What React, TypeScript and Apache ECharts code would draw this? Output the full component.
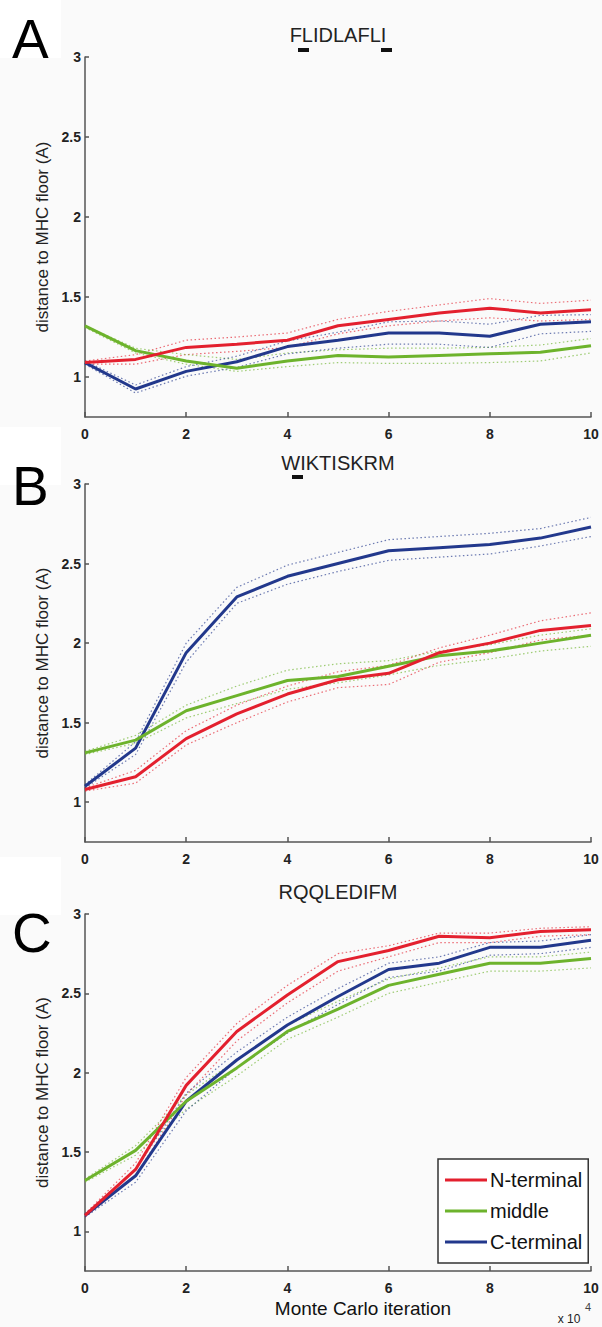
import React, { useEffect, useRef } from "react";
import * as echarts from "echarts";

// Monte Carlo iteration (x 10^4)
const iterations = [0, 1, 2, 3, 4, 5, 6, 7, 8, 9, 10];
const xTicks = [0, 2, 4, 6, 8, 10];
const yTicks = [1, 1.5, 2, 2.5, 3];

const seriesNames = ["N-terminal", "middle", "C-terminal"];
const peptides = ["FLIDLAFLI", "WIKTISKRM", "RQQLEDIFM"];
const panelLetters = ["A", "B", "C"];

// Panel A – FLIDLAFLI
const nA = [1.09, 1.11, 1.185, 1.205, 1.23, 1.32, 1.36, 1.4, 1.43, 1.4, 1.42];
const nAHi = [1.1, 1.14, 1.23, 1.25, 1.275, 1.36, 1.41, 1.45, 1.49, 1.46, 1.48];
const nALo = [1.08, 1.08, 1.14, 1.16, 1.185, 1.27, 1.32, 1.35, 1.37, 1.35, 1.36];
const mA = [1.32, 1.165, 1.1, 1.055, 1.1, 1.135, 1.125, 1.135, 1.145, 1.155, 1.195];
const mAHi = [1.32, 1.18, 1.14, 1.11, 1.15, 1.17, 1.18, 1.18, 1.185, 1.2, 1.24];
const mALo = [1.31, 1.15, 1.08, 1.035, 1.065, 1.09, 1.085, 1.085, 1.09, 1.1, 1.15];
const cA = [1.09, 0.925, 1.035, 1.095, 1.19, 1.23, 1.275, 1.275, 1.255, 1.33, 1.345];
const cAHi = [1.1, 0.95, 1.065, 1.13, 1.225, 1.28, 1.345, 1.35, 1.33, 1.385, 1.39];
const cALo = [1.08, 0.9, 1.005, 1.06, 1.145, 1.18, 1.205, 1.205, 1.185, 1.27, 1.285];

// Panel B – WIKTISKRM
const nB = [1.08, 1.16, 1.4, 1.555, 1.68, 1.77, 1.81, 1.94, 2.0, 2.08, 2.11];
const nBHi = [1.09, 1.2, 1.45, 1.61, 1.73, 1.82, 1.86, 1.97, 2.05, 2.14, 2.19];
const nBLo = [1.07, 1.12, 1.36, 1.5, 1.63, 1.72, 1.74, 1.88, 1.94, 2.02, 2.05];
const mB = [1.31, 1.39, 1.575, 1.67, 1.765, 1.79, 1.855, 1.92, 1.95, 2.0, 2.05];
const mBHi = [1.32, 1.42, 1.61, 1.73, 1.83, 1.87, 1.89, 1.95, 1.99, 2.05, 2.09];
const mBLo = [1.3, 1.37, 1.53, 1.62, 1.71, 1.75, 1.8, 1.86, 1.9, 1.95, 1.98];
const cB = [1.1, 1.34, 1.94, 2.29, 2.42, 2.5, 2.58, 2.6, 2.62, 2.66, 2.73];
const cBHi = [1.11, 1.38, 2.0, 2.35, 2.49, 2.57, 2.65, 2.67, 2.69, 2.72, 2.79];
const cBLo = [1.09, 1.3, 1.88, 2.25, 2.37, 2.45, 2.52, 2.54, 2.56, 2.61, 2.67];

// Panel C – RQQLEDIFM
const nC = [1.1, 1.39, 1.92, 2.26, 2.49, 2.7, 2.77, 2.86, 2.85, 2.89, 2.9];
const nCHi = [1.11, 1.43, 1.97, 2.31, 2.55, 2.75, 2.8, 2.88, 2.88, 2.91, 2.92];
const nCLo = [1.09, 1.35, 1.86, 2.2, 2.44, 2.64, 2.73, 2.82, 2.82, 2.86, 2.87];
const mC = [1.32, 1.51, 1.82, 2.03, 2.26, 2.4, 2.55, 2.62, 2.69, 2.69, 2.72];
const mCHi = [1.33, 1.54, 1.86, 2.08, 2.3, 2.45, 2.59, 2.66, 2.73, 2.73, 2.76];
const mCLo = [1.31, 1.48, 1.77, 1.98, 2.21, 2.35, 2.5, 2.57, 2.64, 2.64, 2.66];
const cC = [1.1, 1.35, 1.82, 2.08, 2.3, 2.48, 2.65, 2.69, 2.79, 2.79, 2.835];
const cCHi = [1.11, 1.39, 1.87, 2.13, 2.35, 2.53, 2.69, 2.73, 2.82, 2.83, 2.87];
const cCLo = [1.09, 1.31, 1.76, 2.03, 2.25, 2.43, 2.6, 2.64, 2.74, 2.75, 2.79];

const COLORS = ["#e3202e", "#6db32c", "#22388c"];
const FONT = "'Liberation Sans', Arial, Helvetica, sans-serif";

const panels = [
  { main: [nA, mA, cA], hi: [nAHi, mAHi, cAHi], lo: [nALo, mALo, cALo] },
  { main: [nB, mB, cB], hi: [nBHi, mBHi, cBHi], lo: [nBLo, mBLo, cBLo] },
  { main: [nC, mC, cC], hi: [nCHi, mCHi, cCHi], lo: [nCLo, mCLo, cCLo] },
];

const GRID_LEFT = 85;
const GRID_WIDTH = 506;
const gridTops = [57, 484, 914];
const gridHeights = [360, 358, 357];

const pairs = (ys: number[]) => iterations.map((x, i) => [x, ys[i]]);

export default function App() {
  const ref = useRef<HTMLDivElement>(null);

  useEffect(() => {
    document.body.style.margin = "0";
    if (!ref.current) return;
    const chart = echarts.init(ref.current, undefined, { renderer: "svg" });

    const grids = gridTops.map((top, i) => ({
      left: GRID_LEFT,
      top,
      width: GRID_WIDTH,
      height: gridHeights[i],
      containLabel: false,
    }));

    const axisLine = { show: true, lineStyle: { color: "#555", width: 1.5 } };
    const labelStyle = { color: "#222", fontSize: 14, fontWeight: "bold" as const, fontFamily: FONT };

    const xAxes = gridTops.map((_, i) => ({
      type: "value",
      gridIndex: i,
      min: 0,
      max: 10,
      interval: 2,
      axisLine,
      axisTick: { show: true, inside: true, length: 5, customValues: xTicks, lineStyle: { color: "#555", width: 1.5 } },
      axisLabel: { ...labelStyle, margin: 10, customValues: xTicks },
      splitLine: { show: false },
    }));

    const yAxes = gridTops.map((_, i) => ({
      type: "value",
      gridIndex: i,
      min: 0.75,
      max: 3,
      interval: 0.25,
      name: "distance to MHC floor (A)",
      nameLocation: "middle",
      nameGap: 31,
      nameRotate: 90,
      nameTextStyle: { color: "#222", fontSize: 17, fontFamily: FONT },
      axisLine,
      axisTick: { show: true, inside: true, length: 4, customValues: yTicks, lineStyle: { color: "#555", width: 1.5 } },
      axisLabel: {
        ...labelStyle,
        margin: 4,
        customValues: yTicks,
        formatter: (v: number) => String(v),
      },
      splitLine: { show: false },
    }));

    const series: any[] = [];
    panels.forEach((p, gi) => {
      [0, 1, 2].forEach((k) => {
        [p.hi[k], p.lo[k]].forEach((arr) => {
          series.push({
            type: "line",
            name: seriesNames[k] + " bound",
            xAxisIndex: gi,
            yAxisIndex: gi,
            data: pairs(arr),
            showSymbol: false,
            symbol: "none",
            lineStyle: { color: COLORS[k], width: 1.2, type: [1.5, 2.5], opacity: 0.65 },
            z: 2,
            silent: true,
          });
        });
      });
      [2, 1, 0].forEach((k) => {
        series.push({
          type: "line",
          name: seriesNames[k],
          xAxisIndex: gi,
          yAxisIndex: gi,
          data: pairs(p.main[k]),
          showSymbol: false,
          symbol: "none",
          lineStyle: { color: COLORS[k], width: 3 },
          itemStyle: { color: COLORS[k] },
          z: 3 + (2 - k),
        });
      });
    });

    const graphic: any[] = [];
    [0, 427, 857].forEach((y) => {
      graphic.push({ type: "rect", shape: { x: 0, y, width: 61, height: 58 }, style: { fill: "#ffffff" }, z: 0 });
    });
    const letterTops = [11, 458, 905];
    panelLetters.forEach((L, i) => {
      graphic.push({
        type: "text",
        x: 12,
        y: letterTops[i],
        style: { text: L, fontSize: 55, fontFamily: FONT, fill: "#000" },
        z: 10,
      });
    });
    const titleYs = [35, 463, 892];
    peptides.forEach((t, i) => {
      graphic.push({
        type: "text",
        x: 338,
        y: titleYs[i],
        style: { text: t, fontSize: 20, fontFamily: FONT, fill: "#222", align: "center", verticalAlign: "middle" },
        z: 10,
      });
    });
    [
      [298, 48],
      [381, 48],
      [292, 475],
    ].forEach(([x, y]) => {
      graphic.push({ type: "rect", shape: { x, y, width: 11, height: 4 }, style: { fill: "#111" }, z: 10 });
    });
    graphic.push({
      type: "text",
      x: 363,
      y: 1308,
      style: { text: "Monte Carlo iteration", fontSize: 19, fontFamily: FONT, fill: "#111", align: "center", verticalAlign: "middle" },
      z: 10,
    });
    graphic.push({
      type: "text",
      x: 569,
      y: 1319,
      style: { text: "x 10", fontSize: 12, fontFamily: FONT, fill: "#222", align: "center", verticalAlign: "middle" },
      z: 10,
    });
    graphic.push({
      type: "text",
      x: 588,
      y: 1307,
      style: { text: "4", fontSize: 11, fontFamily: FONT, fill: "#444", align: "center", verticalAlign: "middle" },
      z: 10,
    });

    chart.setOption({
      animation: false,
      backgroundColor: "#fafafa",
      grid: grids,
      xAxis: xAxes,
      yAxis: yAxes,
      series,
      legend: {
        data: seriesNames,
        orient: "vertical",
        left: 438,
        top: 1159,
        width: 155,
        padding: [11, 6, 11, 7],
        itemGap: 11,
        itemWidth: 42,
        itemHeight: 3,
        icon: "rect",
        borderColor: "#333",
        borderWidth: 1.5,
        backgroundColor: "#ffffff",
        selectedMode: false,
        textStyle: { fontSize: 20, fontFamily: FONT, color: "#111", lineHeight: 20, padding: [0, 0, 0, -2] },
      },
      graphic,
    });

    return () => chart.dispose();
  }, []);

  return <div ref={ref} style={{ width: 602, height: 1327 }} />;
}
